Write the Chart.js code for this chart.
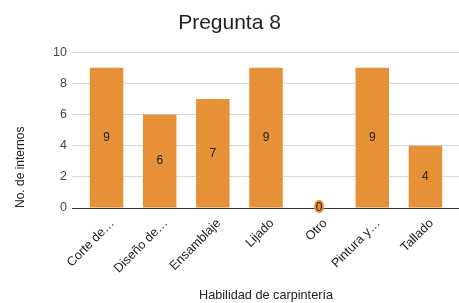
<!DOCTYPE html>
<html>
<head>
<meta charset="utf-8">
<script src="https://cdn.jsdelivr.net/npm/chart.js@4"></script>
<style>
  html, body { margin: 0; padding: 0; background: #fff; }
  #wrap { width: 459px; height: 303px; }
</style>
</head>
<body>
<div id="wrap"><canvas id="grafica" width="459" height="303"></canvas></div>
<script>
// datos de la grafica
let habilidades = ["Corte de…", "Diseño de…", "Ensamblaje", "Lijado", "Otro", "Pintura y…", "Tallado"];
let internos = [9, 6, 7, 9, 0, 9, 4];
let ticksY = [0, 2, 4, 6, 8, 10];

let naranja = "#e69138";
let fuente = "'Liberation Sans', Arial, sans-serif";

// etiquetas dentro de cada barra
let etiquetasBarras = {
  id: "etiquetasBarras",
  afterDatasetsDraw(chart) {
    let ctx = chart.ctx;
    let meta = chart.getDatasetMeta(0);
    ctx.save();
    ctx.font = "12px " + fuente;
    ctx.textAlign = "center";
    ctx.textBaseline = "middle";
    meta.data.forEach((bar, i) => {
      let valor = chart.data.datasets[0].data[i];
      let y = (bar.y + bar.base) / 2;
      if (valor === 0) {
        ctx.lineWidth = 4;
        ctx.strokeStyle = naranja;
        ctx.lineJoin = "round";
        ctx.strokeText(String(valor), bar.x, y);
      }
      ctx.fillStyle = "#222";
      ctx.fillText(String(valor), bar.x, y);
    });
    ctx.restore();
  }
};

let colorGrid = ctx => (ctx.tick && ctx.tick.value === 0) ? "#333" : "#d9d9d9";

let chartG = new Chart(document.getElementById("grafica").getContext("2d"), {
  type: "bar",
  data: {
    labels: habilidades,
    datasets: [{
      data: internos,
      backgroundColor: naranja,
      borderWidth: 0,
      categoryPercentage: 1,
      barPercentage: 0.63,
      yAxisID: "y"
    }]
  },
  options: {
    responsive: false,
    animation: false,
    layout: { padding: 0 },
    plugins: {
      legend: { display: false },
      tooltip: { enabled: false },
      title: {
        display: true,
        text: "Pregunta 8",
        color: "#222",
        font: { family: fuente, size: 21, weight: "normal" },
        padding: { top: 11, bottom: 16 }
      }
    },
    scales: {
      x: {
        grid: { display: false },
        border: { display: false },
        ticks: {
          color: "#222",
          font: { family: fuente, size: 12.7 },
          minRotation: 45,
          maxRotation: 45,
          autoSkip: false,
          padding: 0,
          labelOffset: 6
        },
        title: {
          display: true,
          text: "Habilidad de carpintería",
          color: "#222",
          font: { family: fuente, size: 12.7 },
          padding: { top: 0, bottom: 0 }
        },
        afterFit: scale => { scale.height = 95; }
      },
      y: {
        min: 0,
        max: 10,
        afterBuildTicks: scale => { scale.ticks = ticksY.map(v => ({ value: v })); },
        grid: { color: colorGrid, tickColor: colorGrid, tickLength: 8, lineWidth: 1 },
        border: { display: false },
        ticks: {
          color: "#444",
          font: { family: fuente, size: 12.5 },
          padding: 5
        },
        title: {
          display: true,
          text: "No. de internos",
          align: "start",
          color: "#222",
          font: { family: fuente, size: 12 },
          padding: { top: 13, bottom: 0 }
        },
        afterFit: scale => { scale.width = 80; }
      },
      y2: {
        position: "right",
        min: 0,
        max: 10,
        afterBuildTicks: scale => { scale.ticks = ticksY.map(v => ({ value: v })); },
        grid: { drawOnChartArea: false, tickColor: colorGrid, tickLength: 7 },
        border: { display: false },
        ticks: { display: false },
        afterFit: scale => { scale.width = 7; }
      }
    }
  },
  plugins: [etiquetasBarras]
});
</script>
</body>
</html>
